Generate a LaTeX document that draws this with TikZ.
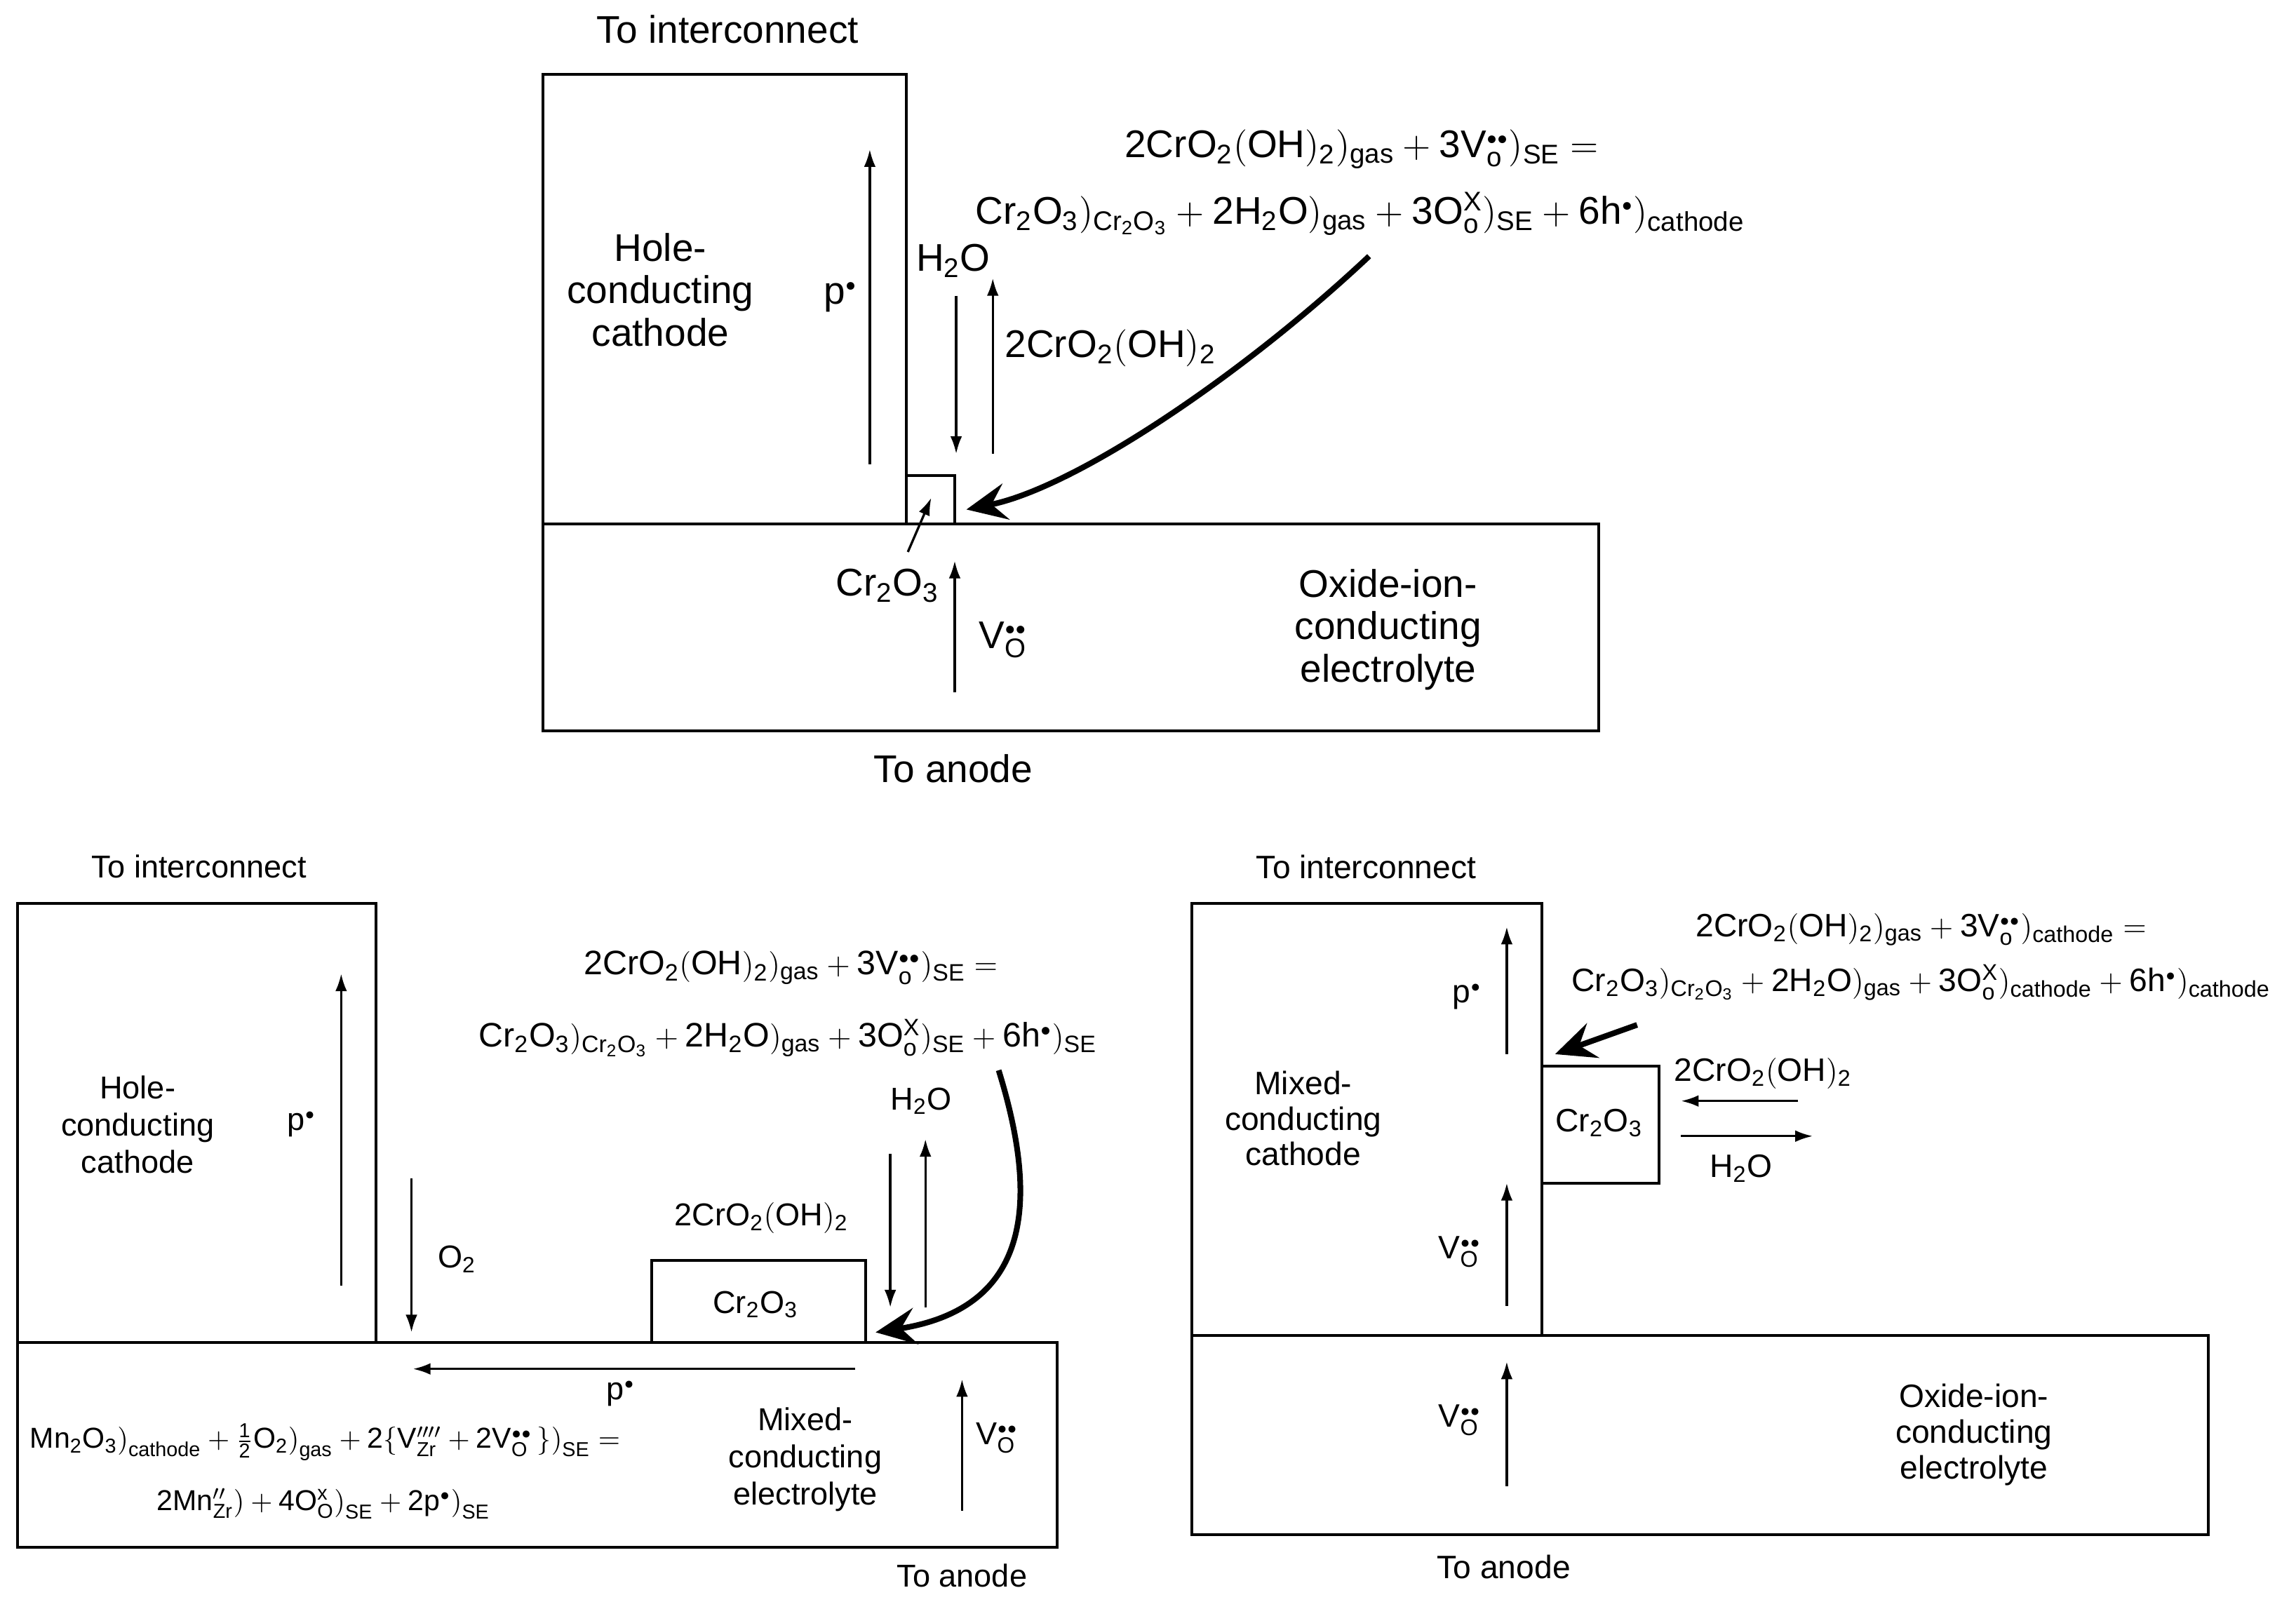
\documentclass[tikz,border=0pt]{standalone}
\usepackage{fontspec}
\setmainfont{Liberation Sans}
\usetikzlibrary{arrows.meta,positioning}

\newcommand{\ptdot}{{\scriptscriptstyle\bullet}}
\newcommand{\subo}{\mathrm{o}\vphantom{\mathrm{I}}}
\newcommand{\pdot}{\ensuremath{\mathrm{p}^{\ptdot}}}
\newcommand{\vox}{\ensuremath{\mathrm{V}_{\mathrm{O}}^{\ptdot\ptdot}}}
\newcommand{\chromia}{\ensuremath{\mathrm{Cr_2O_3}}}
\newcommand{\water}{\ensuremath{\mathrm{H_2O}}}
\newcommand{\chromvap}{\ensuremath{\mathrm{2CrO_2(OH)_2}}}

\begin{document}
\begin{tikzpicture}[x=0.02cm,y=-0.02cm,
  box/.style={line width=1.1pt},
  flow/.style={-{Latex[length=2.4mm,width=1.6mm]},line width=0.9pt},
  bigflow/.style={-{Stealth[length=5.5mm,width=5mm,inset=2mm]},line width=2.2pt},
  big/.style={font=\fontsize{15}{16.5}\selectfont,align=center,inner sep=0pt},
  small/.style={font=\fontsize{12.3}{14.5}\selectfont,align=center,inner sep=0pt},
  mid/.style={font=\fontsize{12.6}{13.8}\selectfont,align=center,inner sep=0pt},
  eqn/.style={font=\fontsize{13.2}{15}\selectfont,inner sep=0pt},
  mneq/.style={font=\fontsize{11.2}{13}\selectfont,inner sep=0pt}]

\useasboundingbox (0,0) rectangle (1568,1094);

% ---- top: hole-conducting cathode on oxide-ion electrolyte ----
\coordinate (tcNW) at (371,51);   \coordinate (tcSE) at (619,358);
\coordinate (teNW) at (371,358);  \coordinate (teSE) at (1092,499);
\coordinate (tbNW) at (619,325);  \coordinate (tbSE) at (652,358);
\draw[box] (tcNW) rectangle (tcSE);
\draw[box] (teNW) rectangle (teSE);
\draw[box] (tbNW) rectangle (tbSE);

\node[big] (tInt) at (497,20) {To interconnect};
\node[big] (tCath) at (451,198) {Hole-\\conducting\\cathode};
\node[big] (tP) at (574,203) {\pdot};
\coordinate (tPa) at (594,317); \coordinate (tPb) at (594,102);
\draw[flow] (tPa) -- (tPb);

\node[big] (tH2O) at (651,178) {\water};
\coordinate (tHa) at (653,202); \coordinate (tHb) at (653,310);
\draw[flow] (tHa) -- (tHb);
\coordinate (tCa) at (678,310); \coordinate (tCb) at (678,190);
\draw[flow] (tCa) -- (tCb);
\node[big,anchor=west] (tVap) at (686,238) {\chromvap};

\node[big] (tEq1) at (930,102) {$\mathrm{2CrO_2(OH)_2)_{gas} + 3V_{\subo}^{\ptdot\ptdot})_{SE} =}$};
\node[big] (tEq2) at (929,146) {$\mathrm{Cr_2O_3)_{Cr_2O_3} + 2H_2O)_{gas} + 3O_{\subo}^{X})_{SE} + 6h^{\ptdot})_{cathode}}$};
\coordinate (tArcA) at (935,175); \coordinate (tArcB) at (660,348);
\draw[bigflow] (tArcA) .. controls (850,255) and (735,333) .. (tArcB);

\node[big] (tCr) at (606,400) {\chromia};
\coordinate (tSa) at (620,377); \coordinate (tSb) at (636,340);
\draw[flow] (tSa) -- (tSb);
\coordinate (tVa) at (652,473); \coordinate (tVb) at (652,383);
\draw[flow] (tVa) -- (tVb);
\node[big] (tV) at (685,437) {\vox};
\node[big] (tEl) at (948,430) {Oxide-ion-\\conducting\\electrolyte};
\node[big] (tAn) at (651,525) {To anode};

% ---- bottom left: hole-conducting cathode on mixed-conducting electrolyte ----
\coordinate (lcNW) at (12,617);   \coordinate (lcSE) at (257,917);
\coordinate (leNW) at (12,917);   \coordinate (leSE) at (722,1057);
\coordinate (lbNW) at (445,861);  \coordinate (lbSE) at (591,917);
\draw[box] (lcNW) rectangle (lcSE);
\draw[box] (leNW) rectangle (leSE);
\draw[box] (lbNW) rectangle (lbSE);

\node[small] (lInt) at (136,592) {To interconnect};
\node[small] (lCath) at (94,768) {Hole-\\conducting\\cathode};
\node[small] (lP) at (206,768) {\pdot};
\coordinate (lPa) at (233,878); \coordinate (lPb) at (233,665);
\draw[flow] (lPa) -- (lPb);
\coordinate (lOa) at (281,805); \coordinate (lOb) at (281,910);
\draw[flow] (lOa) -- (lOb);
\node[small] (lO2) at (312,860) {$\mathrm{O_2}$};

\node[eqn] (lEq1) at (540,661) {$\mathrm{2CrO_2(OH)_2)_{gas} + 3V_{\subo}^{\ptdot\ptdot})_{SE} =}$};
\node[eqn] (lEq2) at (538,709) {$\mathrm{Cr_2O_3)_{Cr_2O_3} + 2H_2O)_{gas} + 3O_{\subo}^{X})_{SE} + 6h^{\ptdot})_{SE}}$};
\node[small] (lH2O) at (629,752) {\water};
\coordinate (lHa) at (608,788); \coordinate (lHb) at (608,893);
\draw[flow] (lHa) -- (lHb);
\coordinate (lCa) at (632,893); \coordinate (lCb) at (632,778);
\draw[flow] (lCa) -- (lCb);
\node[small] (lVap) at (520,832) {\chromvap};
\node[small] (lCr) at (516,891) {\chromia};
\coordinate (lArcA) at (682,731); \coordinate (lArcB) at (598,910);
\draw[bigflow] (lArcA) .. controls (708,815) and (708,893) .. (lArcB);

\coordinate (lHoa) at (584,935); \coordinate (lHob) at (282,935);
\draw[flow] (lHoa) -- (lHob);
\node[small] (lP2) at (424,952) {\pdot};
\node[mneq] (lMn1) at (222,985) {$\mathrm{Mn_2O_3\bigr)_{cathode} + \frac{1}{2}O_2\bigr)_{gas} + 2\bigl\{V_{Zr}^{\prime\prime\prime\prime} + 2V_O^{\ptdot\ptdot}\,\bigr\}\bigr)_{SE} =}$};
\node[mneq] (lMn2) at (221,1027) {$\mathrm{2Mn_{Zr}^{\prime\prime}\bigr) + 4O_O^{x}\bigr)_{SE} + 2p^{\ptdot}\bigr)_{SE}}$};
\node[small] (lEl) at (550,997) {Mixed-\\conducting\\electrolyte};
\coordinate (lVa) at (657,1032); \coordinate (lVb) at (657,942);
\draw[flow] (lVa) -- (lVb);
\node[small] (lV) at (681,982) {\vox};
\node[small] (lAn) at (657,1076) {To anode};

% ---- bottom right: mixed-conducting cathode on oxide-ion electrolyte ----
\coordinate (rcNW) at (814,617);   \coordinate (rcSE) at (1053,912);
\coordinate (reNW) at (814,912);   \coordinate (reSE) at (1508,1048);
\coordinate (rbNW) at (1053,728);  \coordinate (rbSE) at (1133,808);
\draw[box] (rcNW) rectangle (rcSE);
\draw[box] (reNW) rectangle (reSE);
\draw[box] (rbNW) rectangle (rbSE);

\node[mid] (rInt) at (933,592) {To interconnect};
\node[mid] (rCath) at (890,764) {Mixed-\\conducting\\cathode};
\node[mid] (rP) at (1002,681) {\pdot};
\coordinate (rPa) at (1029,720); \coordinate (rPb) at (1029,633);
\draw[flow] (rPa) -- (rPb);
\node[mid] (rV1) at (997,855) {\vox};
\coordinate (rVa) at (1029,892); \coordinate (rVb) at (1029,808);
\draw[flow] (rVa) -- (rVb);
\node[mid] (rCr) at (1092,767) {\chromia};
\coordinate (rDa) at (1118,700); \coordinate (rDb) at (1062,720);
\draw[bigflow] (rDa) -- (rDb);

\node[mid] (rEq1) at (1312,635) {$\mathrm{2CrO_2(OH)_2)_{gas} + 3V_{\subo}^{\ptdot\ptdot})_{cathode} =}$};
\node[mid] (rEq2) at (1312,671) {$\mathrm{Cr_2O_3)_{Cr_2O_3} + 2H_2O)_{gas} + 3O_{\subo}^{X})_{cathode} + 6h^{\ptdot})_{cathode}}$};
\node[mid] (rVap) at (1204,733) {\chromvap};
\coordinate (rLa) at (1228,752); \coordinate (rLb) at (1148,752);
\draw[flow] (rLa) -- (rLb);
\coordinate (rRa) at (1148,776); \coordinate (rRb) at (1238,776);
\draw[flow] (rRa) -- (rRb);
\node[mid] (rH2O) at (1189,798) {\water};

\coordinate (rEa) at (1029,1015); \coordinate (rEb) at (1029,930);
\draw[flow] (rEa) -- (rEb);
\node[mid] (rV2) at (997,970) {\vox};
\node[mid] (rEl) at (1348,980) {Oxide-ion-\\conducting\\electrolyte};
\node[mid] (rAn) at (1027,1070) {To anode};

\end{tikzpicture}
\end{document}
